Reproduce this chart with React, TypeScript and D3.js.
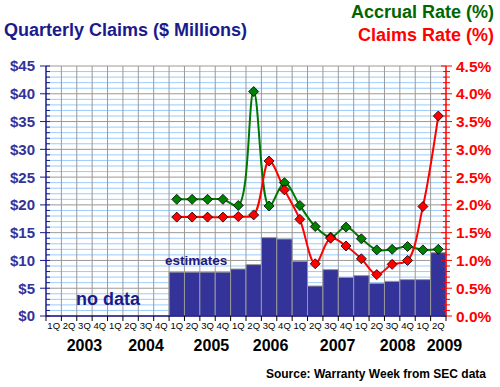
import React from 'react';
import * as d3 from 'd3';

const years = ['2003', '2004', '2005', '2006', '2007', '2008', '2009'];
const quarterNames = ['1Q', '2Q', '3Q', '4Q'];
// 2003 1Q .. 2009 2Q
const quarters = years.flatMap(y => quarterNames.map(q => `${y} ${q}`)).slice(0, 26);

// data starts at 2005 1Q
const dataQuarters = quarters.slice(8);
const claims = [7.9, 7.9, 7.9, 7.9, 8.46, 9.25, 14.1, 13.86, 9.85, 5.4, 8.35, 6.95, 7.27, 5.88, 6.24, 6.55, 6.55, 11.4];
const accrualRate = [2.1, 2.1, 2.1, 2.1, 1.99, 4.04, 1.98, 2.4, 1.99, 1.61, 1.42, 1.6, 1.39, 1.19, 1.2, 1.25, 1.19, 1.2];
const claimsRate = [1.78, 1.78, 1.78, 1.78, 1.79, 1.82, 2.79, 2.27, 1.74, 0.94, 1.4, 1.26, 1.03, 0.745, 0.93, 1.0, 1.97, 3.6];

// where each year label sits, in quarter units from the left edge
const yearLabelPos = [2.5, 6.5, 10.75, 14.6, 18.95, 22.85, 25.9];

const leftTicks = d3.range(0, 46, 5);
const rightTicks = d3.range(0, 4.51, 0.5);

const font = 'Arial, "Liberation Sans", sans-serif';
const navy = '#1a1a8c';

const App: React.FC = () => {
  const width = 500;
  const height = 387;
  const left = 46;
  const right = 446;
  const top = 66;
  const bottom = 316;

  const x = d3.scaleBand<string>().domain(quarters).range([left, right]).padding(0);
  const qw = x.bandwidth();
  const xPos = d3.scaleLinear().domain([0, quarters.length]).range([left, right]);
  const yL = d3.scaleLinear().domain([0, 45]).range([bottom, top]);
  const yR = d3.scaleLinear().domain([0, 4.5]).range([bottom, top]);

  const cx = (q: string) => (x(q) || 0) + qw / 2;

  const line = d3.line<number>()
    .x((_, i) => cx(dataQuarters[i]))
    .y(d => yR(d))
    .curve(d3.curveCatmullRom.alpha(0.5));

  const diamond = (px: number, py: number, r = 5) =>
    `M${px},${py - r}L${px + r},${py}L${px},${py + r}L${px - r},${py}Z`;

  const minorL = d3.range(0, 46, 1);
  const minorR = d3.range(0, 45.5, 1).map(v => v / 10);

  return (
    <svg width={width} height={height} style={{ position: 'absolute', left: 0, top: 0, background: '#fff' }} fontFamily={font}>
      {/* grid */}
      {minorL.filter(v => v % 5 !== 0).map(v => (
        <line key={`h${v}`} x1={left} x2={right} y1={yL(v)} y2={yL(v)} stroke="#99ccff" strokeWidth={1} />
      ))}
      {leftTicks.map(v => (
        <line key={`hm${v}`} x1={left} x2={right} y1={yL(v)} y2={yL(v)} stroke="#999" strokeWidth={1} />
      ))}
      {d3.range(1, quarters.length).map(i => (
        <line key={`v${i}`} x1={xPos(i)} x2={xPos(i)} y1={top} y2={bottom} stroke="#999" strokeWidth={1} />
      ))}

      {/* bars */}
      {claims.map((v, i) => (
        <rect key={`b${i}`} x={x(dataQuarters[i])} y={yL(v)} width={qw} height={bottom - yL(v)}
          fill="#333399" stroke="#999" strokeWidth={1} />
      ))}

      {/* rate lines */}
      <path d={line(accrualRate) || ''} fill="none" stroke="#007700" strokeWidth={2} />
      <path d={line(claimsRate) || ''} fill="none" stroke="#ff0000" strokeWidth={2} />
      {accrualRate.map((v, i) => (
        <path key={`ga${i}`} d={diamond(cx(dataQuarters[i]), yR(v))} fill="#008000" stroke="#000" strokeWidth={0.8} />
      ))}
      {claimsRate.map((v, i) => (
        <path key={`rc${i}`} d={diamond(cx(dataQuarters[i]), yR(v))} fill="#ff0000" stroke="#000" strokeWidth={0.8} />
      ))}

      {/* left axis */}
      <line x1={left} x2={left} y1={top} y2={bottom} stroke={navy} strokeWidth={1.5} />
      {minorL.map(v => (
        <line key={`lt${v}`} x1={v % 5 === 0 ? left - 6 : left} x2={left + 4} y1={yL(v)} y2={yL(v)} stroke={navy} strokeWidth={1} />
      ))}
      {leftTicks.map(v => (
        <text key={`ll${v}`} x={35} y={yL(v)} dy="0.36em" textAnchor="end" fontSize={15} fontWeight="bold" fill="#333399">
          ${v}
        </text>
      ))}

      {/* right axis */}
      <line x1={right} x2={right} y1={top} y2={bottom} stroke="#ff0000" strokeWidth={1.5} />
      {minorR.map((v, i) => (
        <line key={`rt${i}`} x1={i % 5 === 0 ? right - 5 : right - 3} x2={i % 5 === 0 ? right + 6 : right + 4}
          y1={yR(v)} y2={yR(v)} stroke="#ff0000" strokeWidth={1} />
      ))}
      {rightTicks.map(v => (
        <text key={`rl${v}`} x={456} y={yR(v)} dy="0.36em" fontSize={15.5} fontWeight="bold" fill="#ff0000">
          {v.toFixed(1)}%
        </text>
      ))}

      {/* bottom axis */}
      <line x1={left} x2={right} y1={bottom} y2={bottom} stroke={navy} strokeWidth={1.5} />
      {d3.range(0, quarters.length + 1).map(i => (
        <line key={`bt${i}`} x1={xPos(i)} x2={xPos(i)} y1={bottom} y2={bottom + 5} stroke="#000" strokeWidth={1} />
      ))}
      {quarters.map(q => (
        <text key={`ql${q}`} x={cx(q)} y={329} textAnchor="middle" fontSize={9.5} fill="#000">
          {q.split(' ')[1]}
        </text>
      ))}
      {years.map((yr, i) => (
        <text key={`yl${yr}`} x={xPos(yearLabelPos[i])} y={351} textAnchor="middle" fontSize={16} fontWeight="bold" fill="#000">
          {yr}
        </text>
      ))}

      {/* annotations */}
      <text x={165} y={265} fontSize={13.5} fontWeight="bold" fill={navy}>estimates</text>
      <text x={76} y={305} fontSize={18} fontWeight="bold" fill={navy}>no data</text>

      <text x={4} y={36} fontSize={18} fontWeight="bold" fill={navy}>Quarterly Claims ($ Millions)</text>
      <text x={494} y={18} textAnchor="end" fontSize={18} fontWeight="bold" fill="#006600">Accrual Rate (%)</text>
      <text x={494} y={41} textAnchor="end" fontSize={18} fontWeight="bold" fill="#ff0000">Claims Rate (%)</text>
      <text x={486} y={378} textAnchor="end" fontSize={12} fontWeight="bold" fill="#000">Source: Warranty Week from SEC data</text>
    </svg>
  );
};

export default App;
